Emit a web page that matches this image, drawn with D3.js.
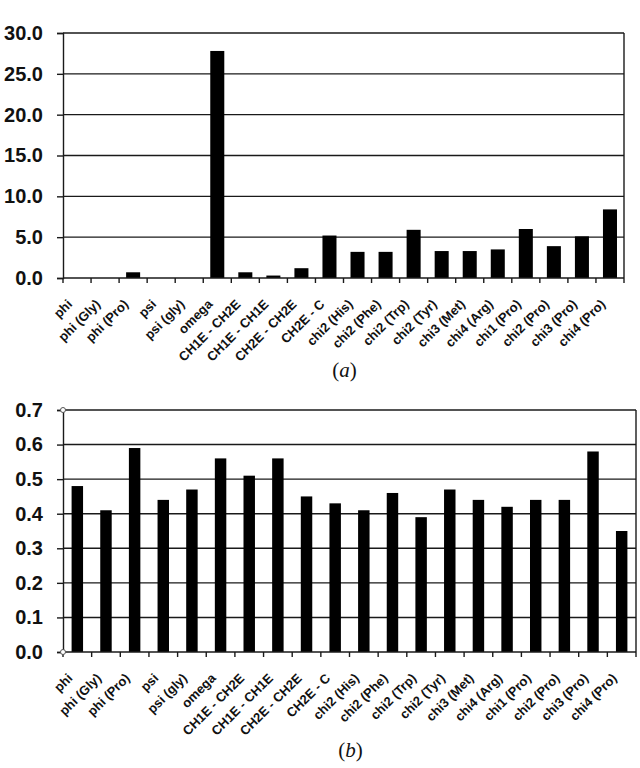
<!DOCTYPE html>
<html>
<head>
<meta charset="utf-8">
<script src="https://cdn.jsdelivr.net/npm/d3@7"></script>
<style>
  body { margin: 0; background: #fff; }
  svg { display: block; }
</style>
</head>
<body>
<div class="chart"></div>
<script>
// torsion categories, shared by both panels
const categories = [
  "phi", "phi (Gly)", "phi (Pro)", "psi", "psi (gly)", "omega",
  "CH1E - CH2E", "CH1E - CH1E", "CH2E - CH2E", "CH2E - C",
  "chi2 (His)", "chi2 (Phe)", "chi2 (Trp)", "chi2 (Tyr)", "chi3 (Met)",
  "chi4 (Arg)", "chi1 (Pro)", "chi2 (Pro)", "chi3 (Pro)", "chi4 (Pro)"
];

// panel (a)
const valuesA = [0, 0, 0.7, 0, 0, 27.8, 0.7, 0.3, 1.2, 5.2, 3.2, 3.2, 5.9, 3.3, 3.3, 3.5, 6.0, 3.9, 5.1, 8.4];
const ticksA = [0, 5, 10, 15, 20, 25, 30];

// panel (b)
const valuesB = [0.48, 0.41, 0.59, 0.44, 0.47, 0.56, 0.51, 0.56, 0.45, 0.43, 0.41, 0.46, 0.39, 0.47, 0.44, 0.42, 0.44, 0.44, 0.58, 0.35];
const ticksB = [0, 0.1, 0.2, 0.3, 0.4, 0.5, 0.6, 0.7];

const W = 640, H = 768;
const SANS = "Arial, 'Liberation Sans', sans-serif";

const svg = d3.select(".chart")
  .append("svg")
  .attr("width", W)
  .attr("height", H)
  .style("background", "#fff");

function drawPanel(opts) {
  const { values, ticks, left, right, top, bottom, padding, markers, caption, captionY } = opts;

  const x = d3.scaleBand()
    .domain(categories)
    .range([left, right])
    .paddingInner(padding)
    .paddingOuter(padding / 2);

  const y = d3.scaleLinear()
    .domain([0, d3.max(ticks)])
    .range([bottom, top]);

  const g = svg.append("g");

  // horizontal grid lines
  g.append("g")
    .selectAll("line")
    .data(ticks.slice(1))
    .enter()
    .append("line")
    .attr("x1", left)
    .attr("x2", right)
    .attr("y1", (d) => y(d))
    .attr("y2", (d) => y(d))
    .attr("stroke", "#1a1a1a")
    .attr("stroke-width", 1.4);

  // right border
  g.append("line")
    .attr("x1", right)
    .attr("x2", right)
    .attr("y1", top)
    .attr("y2", bottom)
    .attr("stroke", "#1a1a1a")
    .attr("stroke-width", 1.4);

  // bars
  g.append("g")
    .selectAll("rect")
    .data(values)
    .enter()
    .append("rect")
    .attr("x", (d, i) => x(categories[i]))
    .attr("width", x.bandwidth())
    .attr("y", (d) => y(d))
    .attr("height", (d) => y(0) - y(d))
    .attr("fill", "#000");

  // y axis
  const yAxis = g.append("g")
    .attr("transform", `translate(${left},0)`)
    .call(d3.axisLeft(y).tickValues(ticks).tickFormat(d3.format(".1f")).tickSize(6).tickPadding(14));

  yAxis.select(".domain").attr("stroke", "#1a1a1a").attr("stroke-width", 1.4);
  yAxis.selectAll(".tick line").attr("stroke", "#1a1a1a").attr("stroke-width", 1.4);
  yAxis.selectAll("text")
    .attr("fill", "#111")
    .style("font-family", SANS)
    .style("font-weight", "bold")
    .style("font-size", "20px");

  // x axis: ticks between categories
  const step = x.step();
  const edges = d3.range(categories.length + 1).map((i) => left + i * step);
  const xAxis = g.append("g");
  xAxis.append("line")
    .attr("x1", left)
    .attr("x2", right)
    .attr("y1", bottom)
    .attr("y2", bottom)
    .attr("stroke", "#1a1a1a")
    .attr("stroke-width", 1.4);
  xAxis.selectAll(".xt")
    .data(edges)
    .enter()
    .append("line")
    .attr("class", "xt")
    .attr("x1", (d) => d)
    .attr("x2", (d) => d)
    .attr("y1", bottom)
    .attr("y2", bottom + 5)
    .attr("stroke", "#1a1a1a")
    .attr("stroke-width", 1.4);

  xAxis.selectAll(".xl")
    .data(categories)
    .enter()
    .append("text")
    .attr("class", "xl")
    .attr("text-anchor", "end")
    .attr("transform", (d) => `translate(${x(d) + x.bandwidth() / 2 - 4},${bottom + 27}) rotate(-45)`)
    .style("font-family", SANS)
    .style("font-weight", "bold")
    .style("font-size", "13px")
    .attr("fill", "#111")
    .text((d) => d);

  // small open markers at the axis ends
  if (markers) {
    g.selectAll(".mk")
      .data([y(0), y(d3.max(ticks))])
      .enter()
      .append("circle")
      .attr("class", "mk")
      .attr("cx", left)
      .attr("cy", (d) => d)
      .attr("r", 2.5)
      .attr("fill", "#fff")
      .attr("stroke", "#555")
      .attr("stroke-width", 1);
  }

  // caption
  svg.append("text")
    .attr("x", (left + right) / 2 + 1)
    .attr("y", captionY)
    .attr("text-anchor", "middle")
    .style("font-family", "'Liberation Serif', 'Times New Roman', serif")
    .style("font-size", "21px")
    .attr("fill", "#111")
    .html(`(<tspan font-style="italic">${caption}</tspan>)`);
}

drawPanel({
  values: valuesA, ticks: ticksA,
  left: 63, right: 624, top: 33, bottom: 278,
  padding: 0.5, markers: false, caption: "a", captionY: 377
});

drawPanel({
  values: valuesB, ticks: ticksB,
  left: 63, right: 636, top: 410, bottom: 652,
  padding: 0.6, markers: true, caption: "b", captionY: 757
});
</script>
</body>
</html>
